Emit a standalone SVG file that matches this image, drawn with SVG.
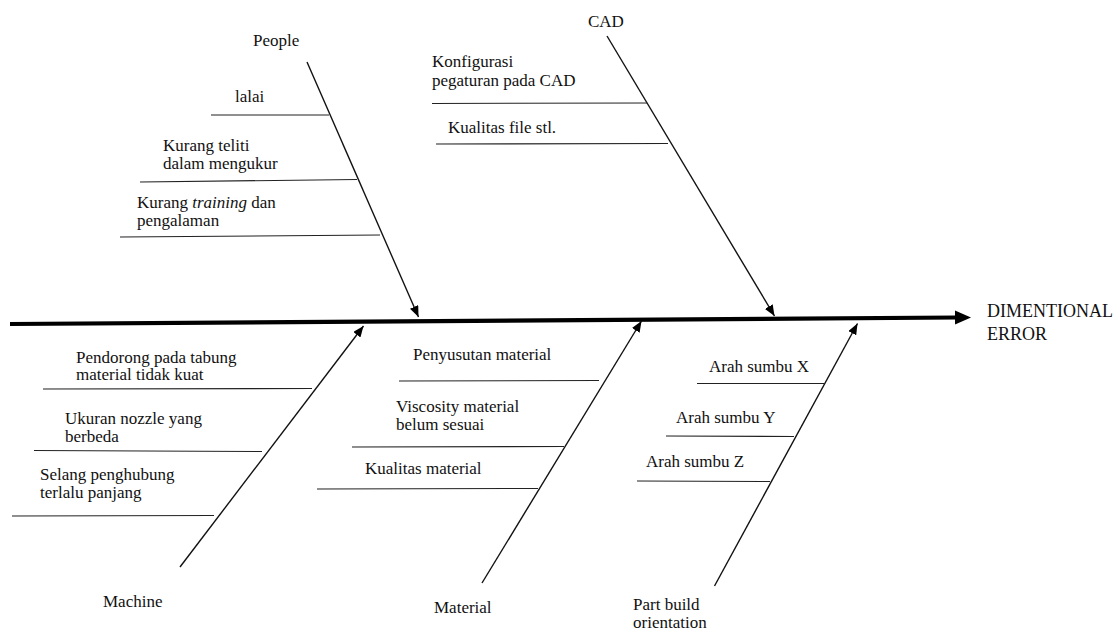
<svg xmlns="http://www.w3.org/2000/svg" width="1120" height="630" viewBox="0 0 1120 630">
<style>
  text { font-family: "Liberation Serif", "Times New Roman", serif; font-size: 17px; fill: #111; }
  .u { stroke: #222; stroke-width: 1.1; fill: none; }
  .bone { stroke: #111; stroke-width: 1.4; fill: none; marker-end: url(#ah); }
  .spine { stroke: #000; stroke-width: 4.2; fill: none; marker-end: url(#big); }
</style>
<defs>
  <marker id="ah" markerUnits="userSpaceOnUse" markerWidth="12" markerHeight="9" refX="11" refY="4.5" orient="auto">
    <path d="M0,0 L11,4.5 L0,9 z" fill="#000"/>
  </marker>
  <marker id="big" markerUnits="userSpaceOnUse" markerWidth="18" markerHeight="15" refX="2" refY="7" orient="auto">
    <path d="M0,0 L16,7 L0,14 z" fill="#000"/>
  </marker>
</defs>
<rect width="1120" height="630" fill="#fff"/>

<g id="connectors">
  <line class="spine" x1="10" y1="324" x2="957" y2="317.5"/>
  <line class="bone" x1="307" y1="62" x2="418.5" y2="317"/>
  <line class="bone" x1="607" y1="36" x2="774.5" y2="316"/>
  <line class="bone" x1="180" y1="567" x2="363.5" y2="326"/>
  <line class="bone" x1="482" y1="583" x2="641.5" y2="321"/>
  <line class="bone" x1="714.5" y1="586" x2="857.5" y2="323.5"/>
</g>

<g id="effect">
  <text x="987" y="317" style="font-size:18px">DIMENTIONAL</text>
  <text x="987" y="340" style="font-size:18px">ERROR</text>
</g>

<g id="people">
  <text x="253" y="46">People</text>
  <text x="235" y="102">lalai</text>
  <line class="u" x1="211" y1="115" x2="329" y2="115"/>
  <text x="163" y="151">Kurang teliti</text>
  <text x="163" y="169">dalam mengukur</text>
  <line class="u" x1="140" y1="182" x2="357" y2="179.5"/>
  <text x="137" y="208">Kurang <tspan font-style="italic">training</tspan> dan</text>
  <text x="137" y="226">pengalaman</text>
  <line class="u" x1="120" y1="237" x2="380" y2="235"/>
</g>

<g id="cad">
  <text x="588" y="27">CAD</text>
  <text x="432" y="67">Konfigurasi</text>
  <text x="432" y="86">pegaturan pada CAD</text>
  <line class="u" x1="432" y1="103.5" x2="647" y2="103"/>
  <text x="448" y="133">Kualitas file stl.</text>
  <line class="u" x1="436" y1="144" x2="668" y2="143.5"/>
</g>

<g id="machine">
  <text x="76" y="363">Pendorong pada tabung</text>
  <text x="76" y="380">material tidak kuat</text>
  <line class="u" x1="43" y1="389" x2="312" y2="388.5"/>
  <text x="65" y="424">Ukuran nozzle yang</text>
  <text x="65" y="442">berbeda</text>
  <line class="u" x1="34" y1="450.5" x2="262" y2="451.5"/>
  <text x="40" y="480">Selang penghubung</text>
  <text x="40" y="498">terlalu panjang</text>
  <line class="u" x1="12" y1="516" x2="214" y2="515.5"/>
  <text x="103" y="607">Machine</text>
</g>

<g id="material">
  <text x="413" y="360">Penyusutan material</text>
  <line class="u" x1="399" y1="381" x2="599" y2="380.5"/>
  <text x="396" y="412">Viscosity material</text>
  <text x="396" y="430">belum sesuai</text>
  <line class="u" x1="352" y1="447" x2="564" y2="446.5"/>
  <text x="365" y="474">Kualitas material</text>
  <line class="u" x1="317" y1="489" x2="538" y2="488.5"/>
  <text x="434" y="613">Material</text>
</g>

<g id="part-build-orientation">
  <text x="709" y="372">Arah sumbu X</text>
  <line class="u" x1="697" y1="383.5" x2="824" y2="383.5"/>
  <text x="676" y="423">Arah sumbu Y</text>
  <line class="u" x1="666" y1="436" x2="794" y2="436.5"/>
  <text x="646" y="467">Arah sumbu Z</text>
  <line class="u" x1="637" y1="481" x2="770" y2="481.5"/>
  <text x="633" y="610">Part build</text>
  <text x="633" y="628">orientation</text>
</g>
</svg>
